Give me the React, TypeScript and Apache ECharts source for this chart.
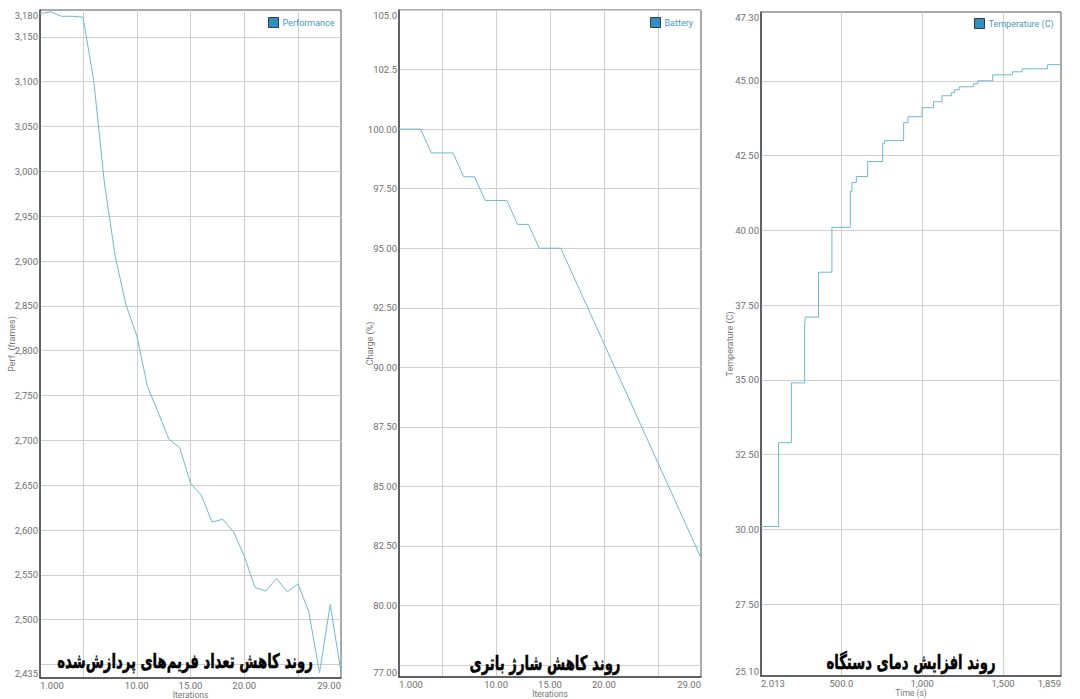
import React, { useEffect, useRef } from "react";
import * as echarts from "echarts";

// ---------- Data ----------
const iterations = [1, 2, 3, 4, 5, 6, 7, 8, 9, 10, 11, 12, 13, 14, 15, 16, 17, 18, 19, 20, 21, 22, 23, 24, 25, 26, 27, 28, 29];
const performanceFrames = [3176, 3178, 3173, 3173, 3172, 3101, 2986, 2905, 2851, 2817, 2760, 2731, 2701, 2692, 2652, 2639, 2609, 2612, 2598, 2571, 2536, 2532, 2546, 2531, 2540, 2509, 2441, 2517, 2441];
const batteryCharge = [100, 100, 100, 99, 99, 99, 98, 98, 97, 97, 97, 96, 96, 95, 95, 95, 94, 93, 92, 91, 90, 89, 88, 87, 86, 85, 84, 83, 82];
const tempTimes = [2.013, 111, 190, 272, 276, 358, 441, 555, 565, 592, 662, 755, 767, 885, 912, 999, 1070, 1122, 1180, 1200, 1229, 1318, 1345, 1436, 1559, 1618, 1776, 1859];
const tempValues = [30.1, 32.9, 34.9, 36.8, 37.1, 38.6, 40.1, 41.3, 41.6, 41.8, 42.3, 42.9, 43.0, 43.6, 43.8, 44.1, 44.3, 44.5, 44.6, 44.7, 44.8, 44.9, 45.0, 45.2, 45.3, 45.4, 45.54, 45.54];

// ---------- Axis ticks / labels ----------
const iterGridTicks = [5, 10, 15, 20, 25];
const iterLabelTicks = [1, 10, 15, 20, 29];
const perfGridTicks = [2450, 2500, 2550, 2600, 2650, 2700, 2750, 2800, 2850, 2900, 2950, 3000, 3050, 3100, 3150];
const perfLabelTicks = [2435, 2500, 2550, 2600, 2650, 2700, 2750, 2800, 2850, 2900, 2950, 3000, 3050, 3100, 3150, 3180];
const battGridTicks = [77.5, 80, 82.5, 85, 87.5, 90, 92.5, 95, 97.5, 100, 102.5, 105];
const battLabelTicks = [77, 80, 82.5, 85, 87.5, 90, 92.5, 95, 97.5, 100, 102.5, 105];
const timeGridTicks = [500, 1000, 1500];
const timeLabelTicks = [2.013, 500, 1000, 1500, 1859];
const tempGridTicks = [27.5, 30, 32.5, 35, 37.5, 40, 42.5, 45];
const tempLabelTicks = [25.1, 27.5, 30, 32.5, 35, 37.5, 40, 42.5, 45, 47.3];

const titles = [
  "روند کاهش تعداد فریم\u200cهای پردازش\u200cشده",
  "روند کاهش شارژ باتری",
  "روند افزایش دمای دستگاه",
];
const seriesNames = ["Performance", "Battery", "Temperature (C)"];
const yNames = ["Perf. (frames)", "Charge (%)", "Temperature (C)"];
const xNames = ["Iterations", "Iterations", "Time (s)"];

const fmtSig4 = (v: number) => (v >= 1000 ? Math.round(v).toLocaleString("en-US") : Number(v).toPrecision(4));
const fmtInt = (v: number) => Math.round(v).toLocaleString("en-US");
const fmtBatt = (v: number) => (v > 100.5 ? v.toFixed(1) : v.toFixed(2));
const fmtTemp = (v: number) => v.toFixed(2);

const LINE = "#6cb9d6";
const GRID = "#cfcfcf";
const AXIS = "#4a4a4a";
const LABEL = "#707070";

export default function App() {
  const ref = useRef<HTMLDivElement>(null);

  useEffect(() => {
    if (!ref.current) return;
    const chart = echarts.init(ref.current, undefined, { renderer: "svg" });

    const grids = [
      { left: 40, top: 10, width: 301, height: 668 },
      { left: 399, top: 10, width: 302, height: 667 },
      { left: 761, top: 12, width: 300, height: 664 },
    ];

    const xCfg = [
      { min: 1, max: 29, grid: iterGridTicks, labels: iterLabelTicks, fmt: fmtSig4 },
      { min: 1, max: 29, grid: iterGridTicks, labels: iterLabelTicks, fmt: fmtSig4 },
      { min: 2.013, max: 1859, grid: timeGridTicks, labels: timeLabelTicks, fmt: fmtSig4 },
    ];
    const yCfg = [
      { min: 2435, max: 3180, grid: perfGridTicks, labels: perfLabelTicks, fmt: fmtInt, gap: 24 },
      { min: 77, max: 105, grid: battGridTicks, labels: battLabelTicks, fmt: fmtBatt, gap: 25 },
      { min: 25.1, max: 47.3, grid: tempGridTicks, labels: tempLabelTicks, fmt: fmtTemp, gap: 27 },
    ];

    const option: any = {
      animation: false,
      backgroundColor: "#ffffff",
      textStyle: { fontFamily: "Roboto" },
      grid: grids.map((g) => ({
        ...g,
        show: true,
        borderColor: "#555",
        borderWidth: 1,
        backgroundColor: "transparent",
        containLabel: false,
        outerBoundsMode: "none",
      })),
      xAxis: xCfg.map((c, i) => ({
        type: "value",
        gridIndex: i,
        min: c.min,
        max: c.max,
        name: xNames[i],
        nameLocation: "middle",
        nameGap: 12,
        nameMoveOverlap: false,
        nameTextStyle: { color: "#777", fontSize: 8.5, fontFamily: "Roboto" },
        axisLine: { show: true, lineStyle: { color: AXIS, width: 1.5 } },
        axisTick: { show: false, customValues: c.grid },
        splitLine: { show: true, lineStyle: { color: GRID, width: 1 } },
        axisLabel: {
          customValues: c.labels,
          color: LABEL,
          fontSize: 9.5,
          margin: 2,
          alignMinLabel: "left",
          alignMaxLabel: "right",
          formatter: (v: number) => c.fmt(v),
        },
      })),
      yAxis: yCfg.map((c, i) => ({
        type: "value",
        gridIndex: i,
        min: c.min,
        max: c.max,
        name: yNames[i],
        nameLocation: "middle",
        nameGap: c.gap,
        nameMoveOverlap: false,
        nameTextStyle: { color: "#777", fontSize: 9, fontFamily: "Roboto" },
        axisLine: { show: true, lineStyle: { color: AXIS, width: 1.5 } },
        axisTick: { show: false, customValues: c.grid },
        splitLine: { show: true, lineStyle: { color: GRID, width: 1 } },
        axisLabel: {
          customValues: c.labels,
          color: LABEL,
          fontSize: 9.5,
          margin: 2,
          verticalAlignMinLabel: "bottom",
          verticalAlignMaxLabel: "top",
          formatter: (v: number) => c.fmt(v),
        },
      })),
      legend: [
        { left: 268, top: 17 },
        { left: 650, top: 17 },
        { left: 974, top: 18 },
      ].map((p, i) => ({
        ...p,
        data: [seriesNames[i]],
        orient: "horizontal",
        padding: 0,
        icon: "rect",
        itemWidth: 10,
        itemHeight: 10,
        itemStyle: { color: "#2f8fc4", borderColor: "#3a3a3a", borderWidth: 1 },
        textStyle: { color: "#4a96c4", fontSize: 9, fontFamily: "Roboto", padding: [0, 0, 0, -1] },
        selectedMode: false,
      })),
      series: [
        {
          name: seriesNames[0],
          type: "line",
          xAxisIndex: 0,
          yAxisIndex: 0,
          showSymbol: false,
          lineStyle: { color: LINE, width: 1 },
          itemStyle: { color: LINE },
          data: iterations.map((x, k) => [x, performanceFrames[k]]),
        },
        {
          name: seriesNames[1],
          type: "line",
          xAxisIndex: 1,
          yAxisIndex: 1,
          showSymbol: false,
          lineStyle: { color: LINE, width: 1 },
          itemStyle: { color: LINE },
          data: iterations.map((x, k) => [x, batteryCharge[k]]),
        },
        {
          name: seriesNames[2],
          type: "line",
          step: "end",
          xAxisIndex: 2,
          yAxisIndex: 2,
          showSymbol: false,
          lineStyle: { color: LINE, width: 1 },
          itemStyle: { color: LINE },
          data: tempTimes.map((x, k) => [x, tempValues[k]]),
        },
      ],
      graphic: [
        { cx: 185, cy: 661 },
        { cx: 545, cy: 663 },
        { cx: 911, cy: 662 },
      ].map((p, i) => ({
        type: "text",
        x: p.cx,
        y: p.cy,
        scaleX: 0.66,
        z: 100,
        style: {
          text: titles[i],
          font: 'bold 20px "DejaVu Sans"',
          fill: "#000",
          stroke: "#000",
          lineWidth: 0.5,
          textAlign: "center",
          textVerticalAlign: "middle",
        },
      })),
    };

    chart.setOption(option);
    return () => chart.dispose();
  }, []);

  return (
    <div
      ref={ref}
      style={{ position: "fixed", left: 0, top: 0, width: 1080, height: 699, background: "#fff" }}
    />
  );
}
